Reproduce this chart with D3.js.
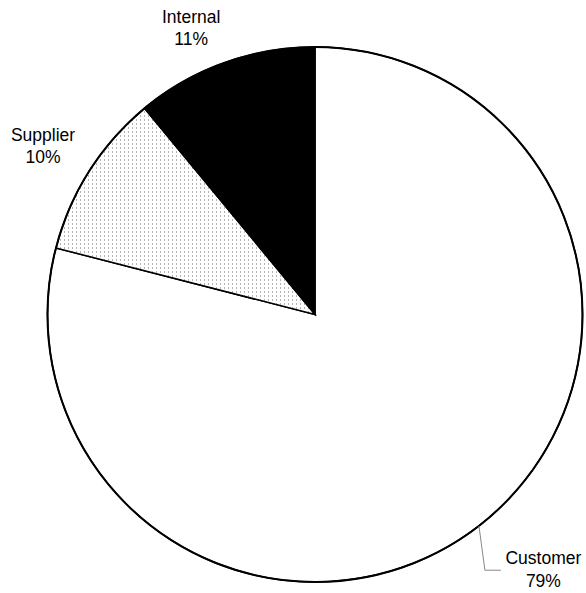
<!DOCTYPE html>
<html><head><meta charset="utf-8">
<script src="https://cdn.jsdelivr.net/npm/d3@7/dist/d3.min.js"></script>
<style>body{margin:0;background:#fff}svg{display:block}text{font-family:"Liberation Sans",Arial,sans-serif;font-size:17.5px;fill:#000}</style>
</head><body>
<script>
const categories = ["Customer", "Supplier", "Internal"];
const values = [79, 10, 11];
const labels = ["79%", "10%", "11%"];

const W = 586, H = 593, cx = 315, cy = 314.5, R = 267.5;
const svg = d3.select("body").append("svg").attr("width", W).attr("height", H);
const defs = svg.append("defs");
const pat = defs.append("pattern").attr("id", "dots").attr("patternUnits", "userSpaceOnUse")
  .attr("width", 4).attr("height", 4);
pat.append("rect").attr("width", 4).attr("height", 4).attr("fill", "#fff");
pat.append("rect").attr("x", 1).attr("y", 1).attr("width", 1).attr("height", 1).attr("fill", "#666");

const fills = ["#fff", "url(#dots)", "#000"];
const data = categories.map((c, i) => ({ c, v: values[i], l: labels[i], f: fills[i] }));
const pie = d3.pie().sort(null).value(d => d.v);
const arcs = pie(data);
const arc = d3.arc().innerRadius(0).outerRadius(R);
const g = svg.append("g").attr("transform", `translate(${cx},${cy})`);
g.selectAll("path.slice").data(arcs).join("path").attr("class", "slice")
  .attr("d", arc).attr("fill", d => d.data.f).attr("stroke", "#000").attr("stroke-width", 1.5)
  .attr("stroke-linejoin", "miter");
g.append("circle").attr("r", R).attr("fill", "none").attr("stroke", "#000").attr("stroke-width", 2);

const mid = d => (d.startAngle + d.endAngle) / 2;
const pt = (a, r) => [Math.sin(a) * r, -Math.cos(a) * r];
const deg = Math.PI / 180;
// label placement tweaks (angle shift, radius)
const place = { Supplier: [-1.5 * deg, 317], Internal: [-4 * deg, 307] };

arcs.forEach(d => {
  const a = mid(d);
  if (d.data.c === "Customer") {
    const p0 = pt(a, R), p1 = pt(a + 4.2 * deg, 307);
    const p2 = [p1[0] + 16, p1[1]];
    g.append("polyline").attr("points", [p0, p1, p2].map(p => p.join(",")).join(" "))
      .attr("fill", "none").attr("stroke", "#888").attr("stroke-width", 1);
    const t = g.append("text").attr("text-anchor", "middle");
    t.append("tspan").attr("x", p2[0] + 42.5).attr("y", p2[1] - 6).text(d.data.c);
    t.append("tspan").attr("x", p2[0] + 42.5).attr("y", p2[1] + 17).text(d.data.l);
  } else {
    const [da, r] = place[d.data.c];
    const p = pt(a + da, r);
    const t = g.append("text").attr("text-anchor", "middle");
    t.append("tspan").attr("x", p[0]).attr("y", p[1] - 11).text(d.data.c);
    t.append("tspan").attr("x", p[0]).attr("y", p[1] + 11).text(d.data.l);
  }
});
</script>
</body></html>
